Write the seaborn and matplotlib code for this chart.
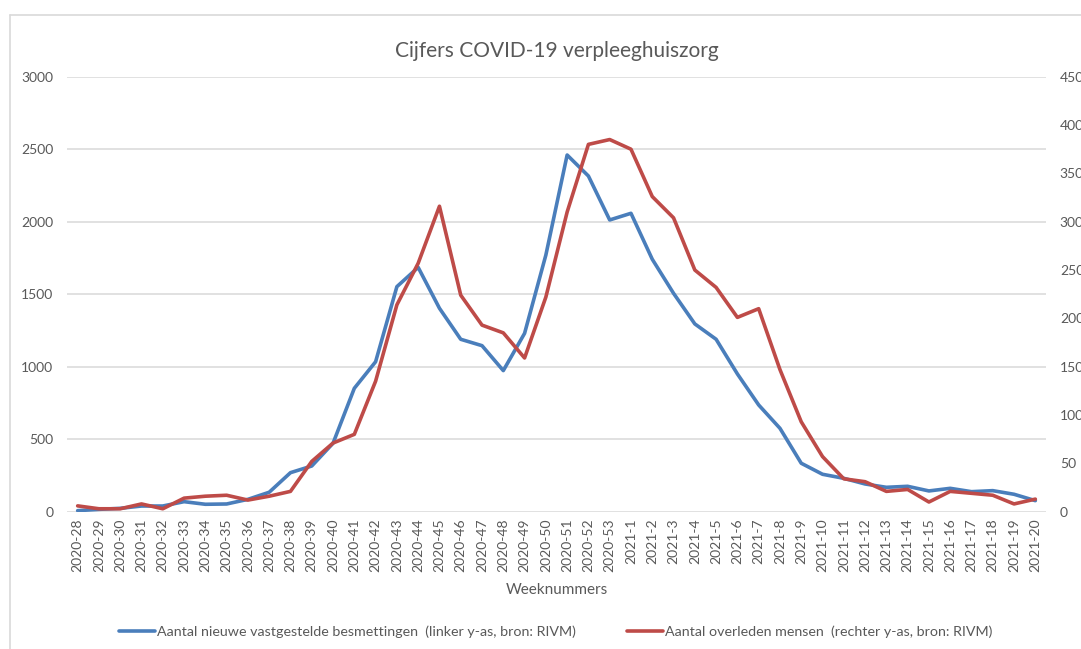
import pandas as pd
import matplotlib.pyplot as plt
import seaborn as sns
from matplotlib.lines import Line2D

# --------------------------------------------------
# data
# --------------------------------------------------

weeks = [f"2020-{w}" for w in range(28, 54)] + [f"2021-{w}" for w in range(1, 21)]

besmettingen = [7, 16, 23, 39, 39, 69, 51, 53, 85, 134,
                269, 315, 472, 851, 1034, 1552, 1685, 1403, 1189, 1145,
                973, 1230, 1770, 2460, 2315, 2012,
                2058, 1741, 1506, 1295, 1189, 950, 736, 575, 334, 258,
                230, 191, 168, 175, 143, 161, 138, 145, 120, 76]

overleden = [6, 3, 3, 8, 3, 14, 16, 17, 12, 16,
             21, 52, 71, 80, 135, 214, 257, 316, 224, 193,
             185, 159, 222, 310, 380, 385,
             375, 326, 304, 250, 232, 201, 210, 147, 93, 57,
             34, 31, 21, 23, 10, 21, 19, 17, 8, 13]

left_ticks = [0, 500, 1000, 1500, 2000, 2500, 3000]
right_ticks = [0, 50, 100, 150, 200, 250, 300, 350, 400, 450]

label_blue = "Aantal nieuwe vastgestelde besmettingen  (linker y-as, bron: RIVM)"
label_red = "Aantal overleden mensen  (rechter y-as, bron: RIVM)"

df = pd.DataFrame({"week": weeks, "besmettingen": besmettingen, "overleden": overleden})
df["pos"] = range(len(df))

# --------------------------------------------------
# style
# --------------------------------------------------

sns.set_theme(style="white")
plt.rcParams["font.family"] = ["Lato", "DejaVu Sans"]
grey_text = "#595959"
grid_col = "#d9d9d9"
blue = "#4a7ebb"
red = "#be4b48"

# --------------------------------------------------
# plotting
# --------------------------------------------------

fig = plt.figure(figsize=(10.81, 6.49), dpi=100)
ax = fig.add_axes([0.062, 0.2116, 0.9056, 0.6702])
ax2 = ax.twinx()

sns.lineplot(data=df, x="pos", y="besmettingen", ax=ax, color=blue, lw=2.6, label=label_blue)
sns.lineplot(data=df, x="pos", y="overleden", ax=ax2, color=red, lw=2.6, label=label_red)

ax.set_xlim(-0.5, len(weeks) - 0.5)
ax.set_ylim(0, 3000)
ax2.set_ylim(0, 450)
ax.set_yticks(left_ticks)
ax2.set_yticks(right_ticks)
ax.set_xticks(df["pos"])
ax.set_xticklabels(weeks, rotation=90)

ax.grid(axis="y", color=grid_col, lw=1.1)
ax.grid(axis="x", visible=False)
ax2.grid(False)
for a in (ax, ax2):
    for s in a.spines.values():
        s.set_visible(False)
    a.tick_params(length=0, colors=grey_text, labelsize=10)
ax.tick_params(axis="y", pad=10)
ax2.tick_params(axis="y", pad=10)
ax.tick_params(axis="x", pad=5)

ax.set_ylabel("")
ax2.set_ylabel("")
ax.set_xlabel("Weeknummers", color=grey_text, fontsize=11, labelpad=8)
ax.set_title("Cijfers COVID-19 verpleeghuiszorg", color=grey_text, fontsize=15, pad=14)

ax.get_legend().remove()
ax2.get_legend().remove()
handles = [Line2D([], [], color=blue, lw=2.6), Line2D([], [], color=red, lw=2.6)]
fig.legend(handles, [label_blue, label_red], loc="center", bbox_to_anchor=(0.514, 0.026),
           ncol=2, frameon=False, fontsize=10.3, handlelength=2.5, handletextpad=0.12,
           columnspacing=3.6, labelcolor=grey_text)

# chart border (cut off on the right and bottom like the screenshot)
fig.add_artist(Line2D([10 / 1081, 1], [1 - 15 / 649, 1 - 15 / 649], color=grid_col, lw=1.2))
fig.add_artist(Line2D([10 / 1081, 10 / 1081], [0, 1 - 15 / 649], color=grid_col, lw=1.2))

plt.savefig("out.png", dpi=100)
